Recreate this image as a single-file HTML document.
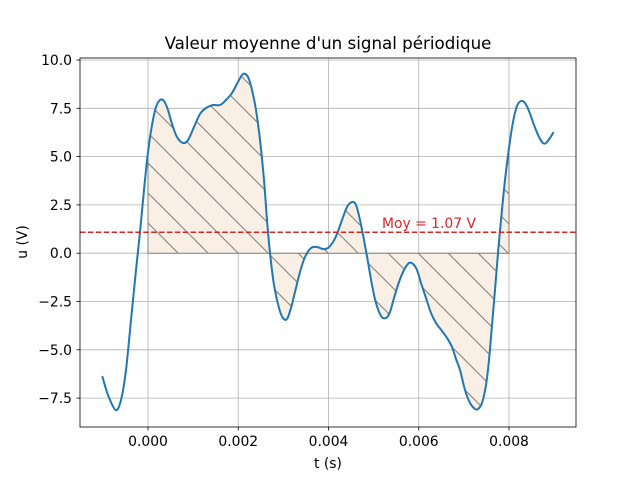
<!DOCTYPE html>
<html><head><meta charset="utf-8"><style>body{margin:0;background:#fff}svg{display:block}</style></head><body>
<svg width="640" height="480" viewBox="0 0 640 480" xmlns="http://www.w3.org/2000/svg" font-family="'DejaVu Sans','Liberation Sans',sans-serif">
<defs>
<pattern id="h" patternUnits="userSpaceOnUse" width="30" height="30" x="148" y="253">
<rect width="30" height="30" fill="#faefe5"/>
<path d="M-5,-5 L35,35 M-35,-5 L5,35 M25,-5 L65,35" stroke="#808080" stroke-width="1"/>
</pattern>
</defs>
<rect width="640" height="480" fill="#fff"/>
<g stroke="#b0b0b0" stroke-width="0.8">
<line x1="148" y1="58" x2="148" y2="427"/><line x1="238.25" y1="58" x2="238.25" y2="427"/><line x1="328.5" y1="58" x2="328.5" y2="427"/><line x1="418.75" y1="58" x2="418.75" y2="427"/><line x1="509" y1="58" x2="509" y2="427"/>
<line x1="80" y1="60" x2="576" y2="60"/><line x1="80" y1="108.3" x2="576" y2="108.3"/><line x1="80" y1="156.6" x2="576" y2="156.6"/><line x1="80" y1="204.9" x2="576" y2="204.9"/><line x1="80" y1="253.2" x2="576" y2="253.2"/><line x1="80" y1="301.5" x2="576" y2="301.5"/><line x1="80" y1="349.8" x2="576" y2="349.8"/><line x1="80" y1="398.1" x2="576" y2="398.1"/>
</g>
<path id="fillp" fill="url(#h)" stroke="#808080" stroke-width="1" d=""/>
<polyline id="curve" fill="none" stroke="#1f77b4" stroke-width="2" stroke-linejoin="round" stroke-linecap="square" points="102.5,377 108,395 115.7,410 121,400 126,370 131,320 136,270 140,232 144,190 148,152 152,125 156,107 160,100 164,101 168,110 172,124 177,137 183,143 188,140 194,127 200,114 206,108 213,105 220,105 226,100 232,93 238,82 243,74 248,77 252,90 256,110 260,140 264,180 267,220 270,253 274,285 279,308 283,318 287,319 291,308 295,292 300,272 305,257 311,248 317,247 323,249 328,248 333,242 337,234 342,220 347,207 352,202 356,205 360,220 364,240 368,262 372,285 376,303 381,316 386,318 390,312 394,298 399,282 404,270 409,263 413,264 417,270 421,283 426,298 431,313 436,323 442,331 447,338 452,347 456,359 460,370 465,390 470,403 475,409 478,409 482,403 486,385 489,360 492,325 495,290 498,253 501,220 505,180 509,148 513,122 517,106 521,101 525,103 529,111 534,125 539,137 543,143 546,143 550,138 553,133"/>
<line x1="80" y1="232.3" x2="576" y2="232.3" stroke="#d62728" stroke-width="1.5" stroke-dasharray="5.5,2.4"/>
<text x="382" y="228" font-size="13.9" fill="#d62728">Moy = 1.07 V</text>
<rect x="80" y="58" width="496" height="369" fill="none" stroke="#000" stroke-width="0.8"/>
<g stroke="#000" stroke-width="0.8">
<line x1="148" y1="427" x2="148" y2="430.5"/><line x1="238.25" y1="427" x2="238.25" y2="430.5"/><line x1="328.5" y1="427" x2="328.5" y2="430.5"/><line x1="418.75" y1="427" x2="418.75" y2="430.5"/><line x1="509" y1="427" x2="509" y2="430.5"/>
<line x1="76.5" y1="60" x2="80" y2="60"/><line x1="76.5" y1="108.3" x2="80" y2="108.3"/><line x1="76.5" y1="156.6" x2="80" y2="156.6"/><line x1="76.5" y1="204.9" x2="80" y2="204.9"/><line x1="76.5" y1="253.2" x2="80" y2="253.2"/><line x1="76.5" y1="301.5" x2="80" y2="301.5"/><line x1="76.5" y1="349.8" x2="80" y2="349.8"/><line x1="76.5" y1="398.1" x2="80" y2="398.1"/>
</g>
<g font-size="13.9" fill="#000" text-anchor="middle">
<text x="148" y="446">0.000</text><text x="238.25" y="446">0.002</text><text x="328.5" y="446">0.004</text><text x="418.75" y="446">0.006</text><text x="509" y="446">0.008</text>
</g>
<g font-size="13.9" fill="#000" text-anchor="end">
<text x="72" y="65">10.0</text><text x="72" y="113.3">7.5</text><text x="72" y="161.6">5.0</text><text x="72" y="209.9">2.5</text><text x="72" y="258.2">0.0</text><text x="72" y="306.5">−2.5</text><text x="72" y="354.8">−5.0</text><text x="72" y="403.1">−7.5</text>
</g>
<text x="328" y="468" font-size="13.9" text-anchor="middle">t (s)</text>
<text x="0" y="0" font-size="13.9" text-anchor="middle" transform="translate(27,242) rotate(-90)">u (V)</text>
<text x="328" y="49" font-size="16.7" text-anchor="middle">Valeur moyenne d'un signal périodique</text>
</svg>
<script>
(function(){
var pl=document.getElementById('curve');
var pts=pl.getAttribute('points').trim().split(/\s+/).map(function(s){var a=s.split(',');return [+a[0],+a[1]];});
function cr(p){var d='M'+p[0][0]+','+p[0][1];
for(var i=0;i<p.length-1;i++){var p0=p[i-1]||p[i],p1=p[i],p2=p[i+1],p3=p[i+2]||p2;
d+=' C'+(p1[0]+(p2[0]-p0[0])/6).toFixed(2)+','+(p1[1]+(p2[1]-p0[1])/6).toFixed(2)+' '+(p2[0]-(p3[0]-p1[0])/6).toFixed(2)+','+(p2[1]-(p3[1]-p1[1])/6).toFixed(2)+' '+p2[0]+','+p2[1];}
return d;}
var ns='http://www.w3.org/2000/svg';
var path=document.createElementNS(ns,'path');
path.setAttribute('d',cr(pts));
['fill','stroke','stroke-width','stroke-linejoin','stroke-linecap'].forEach(function(a){path.setAttribute(a,pl.getAttribute(a));});
pl.parentNode.replaceChild(path,pl);
var sub=pts.filter(function(q){return q[0]>=148&&q[0]<=509;});
document.getElementById('fillp').setAttribute('d',cr(sub)+' L509,253.2 L148,253.2 Z');
})();
</script>
<noscript></noscript>
</body></html>
